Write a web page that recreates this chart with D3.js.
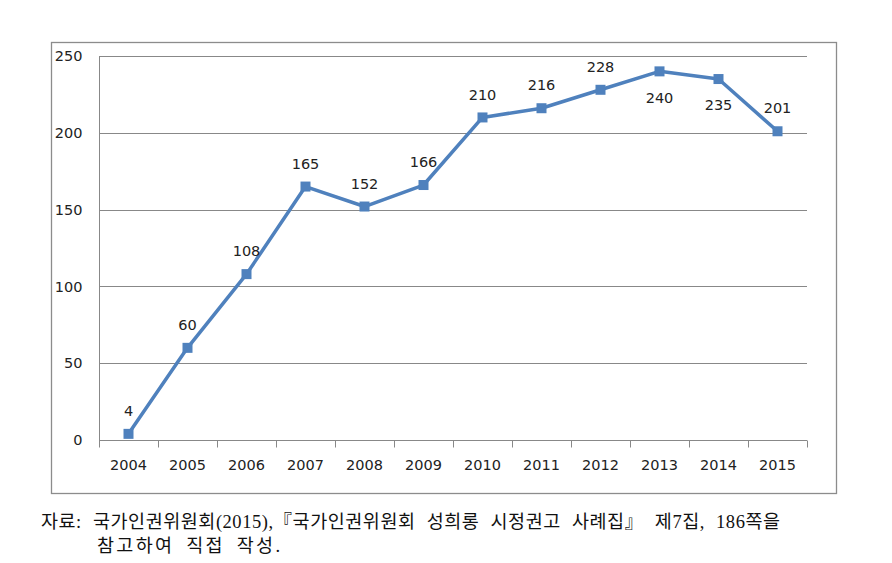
<!DOCTYPE html>
<html><head><meta charset="utf-8">
<script src="https://cdn.jsdelivr.net/npm/d3@7"></script>
<style>body{margin:0;background:#fff}svg{display:block}</style>
</head><body>
<svg id="c" width="892" height="563"></svg>
<script>
const years = ["2004","2005","2006","2007","2008","2009","2010","2011","2012","2013","2014","2015"];
const counts = [4,60,108,165,152,166,210,216,228,240,235,201];
const labelBelow = ["2013","2014"];
const yTicks = [0,50,100,150,200,250];
const captionLine1 = "자료: 국가인권위원회(2015),『국가인권위원회 성희롱 시정권고 사례집』 제7집, 186쪽을";
const captionLine2 = "참고하여 직접 작성.";

const svg = d3.select("#c");
const blue = "#4F81BD", grid = "#888888";
const L = 99, R = 807, T = 56, B = 440;
const numFont = "DejaVu Sans", numSize = 14.5;

svg.append("rect").attr("x",51.5).attr("y",42.5).attr("width",785).attr("height",451)
  .attr("fill","none").attr("stroke","#8c8c8c").attr("stroke-width",1.3);

const x = d3.scaleBand().domain(years).range([L,R]);
const y = d3.scaleLinear().domain([0,250]).range([B,T]);

svg.append("g").selectAll("line").data(yTicks.filter(d=>d>0)).join("line")
  .attr("x1",L).attr("x2",R).attr("y1",d=>Math.round(y(d))+0.5).attr("y2",d=>Math.round(y(d))+0.5)
  .attr("stroke",grid).attr("stroke-width",1);

const ya = svg.append("g").attr("transform",`translate(${L+0.5},0)`)
  .call(d3.axisLeft(y).tickValues(yTicks).tickSize(0).tickPadding(17));
ya.select(".domain").attr("stroke",grid).attr("d",`M0,${T}V${B}`);
ya.selectAll("text").attr("font-family",numFont).attr("font-size",numSize).attr("fill","#222");

const xa = svg.append("g").attr("transform",`translate(0,${Math.round(B)+0.5})`)
  .call(d3.axisBottom(x).tickSize(0).tickPadding(19));
xa.select(".domain").attr("stroke",grid).attr("d",`M${L},0H${R}`);
xa.selectAll("text").attr("font-family",numFont).attr("font-size",numSize).attr("fill","#222");
const bounds = years.map(d=>x(d)).concat([R]);
xa.append("g").selectAll("line").data(bounds).join("line")
  .attr("x1",d=>Math.round(d)+0.5).attr("x2",d=>Math.round(d)+0.5).attr("y1",0).attr("y2",7)
  .attr("stroke",grid);

const cx = d=>x(d)+x.bandwidth()/2;
const pts = years.map((d,i)=>({year:d,v:counts[i]}));
svg.append("path").datum(pts)
  .attr("d",d3.line().x(d=>cx(d.year)).y(d=>y(d.v)))
  .attr("fill","none").attr("stroke",blue).attr("stroke-width",3.5).attr("stroke-linejoin","round");
svg.append("g").selectAll("rect").data(pts).join("rect")
  .attr("x",d=>cx(d.year)-5).attr("y",d=>y(d.v)-5).attr("width",10).attr("height",10)
  .attr("fill",blue);

svg.append("g").selectAll("text").data(pts).join("text")
  .attr("x",d=>cx(d.year))
  .attr("y",d=>labelBelow.includes(d.year)? y(d.v)+26 : y(d.v)-23)
  .attr("dy","0.36em").attr("text-anchor","middle")
  .attr("font-family",numFont).attr("font-size",numSize).attr("fill","#222")
  .text(d=>d.v);

const capFont = "'Liberation Serif','Noto Sans CJK KR',serif";
svg.append("text").attr("x",41).attr("y",528)
  .attr("font-family",capFont).attr("font-size",18.5).attr("fill","#111").attr("word-spacing",6)
  .attr("textLength",739).attr("lengthAdjust","spacing").text(captionLine1);
svg.append("text").attr("x",97).attr("y",552)
  .attr("font-family",capFont).attr("font-size",18.5).attr("fill","#111").attr("word-spacing",5)
  .attr("textLength",183).attr("lengthAdjust","spacing").text(captionLine2);
</script>
</body></html>
